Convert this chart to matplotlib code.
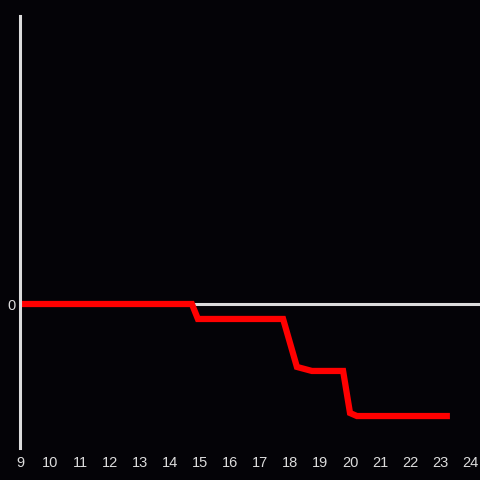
import matplotlib
matplotlib.use("Agg")
import matplotlib.pyplot as plt

x = [9.0, 14.73, 14.93, 17.77, 18.23, 18.73, 19.77, 20.0, 20.23, 23.33]
y = [0.0, 0.0, -1.04, -1.04, -4.37, -4.65, -4.65, -7.57, -7.78, -7.78]
xticks = list(range(9, 25))
yticks = [0]

bg = '#040307'
fg = '#dcdcdc'

fig = plt.figure(figsize=(4.8, 4.8), dpi=100, facecolor=bg)
ax = fig.add_axes([20/480, 32/480, 460/480, 432/480])
ax.set_facecolor(bg)
ax.axhline(0, color=fg, lw=2.2, zorder=1)
ax.plot(x, y, color='#ff0000', lw=4.5, zorder=2, solid_joinstyle='miter', solid_capstyle='butt')
ax.set_xlim(9, 24.333)
ax.set_ylim(-10, 20)
ax.set_xticks(xticks)
ax.set_xticklabels([str(t) for t in xticks])
ax.set_yticks(yticks)
ax.set_yticklabels(['0'])
for s in ['top', 'right', 'bottom']:
    ax.spines[s].set_visible(False)
ax.spines['left'].set_color(fg)
ax.spines['left'].set_linewidth(2.2)
ax.tick_params(axis='both', length=0, colors=fg, labelsize=10.5)
ax.tick_params(axis='x', pad=6)
ax.tick_params(axis='y', pad=3)
for lab in ax.get_xticklabels() + ax.get_yticklabels():
    lab.set_fontfamily('Liberation Sans')
fig.savefig('out.png', dpi=100, facecolor=bg)
